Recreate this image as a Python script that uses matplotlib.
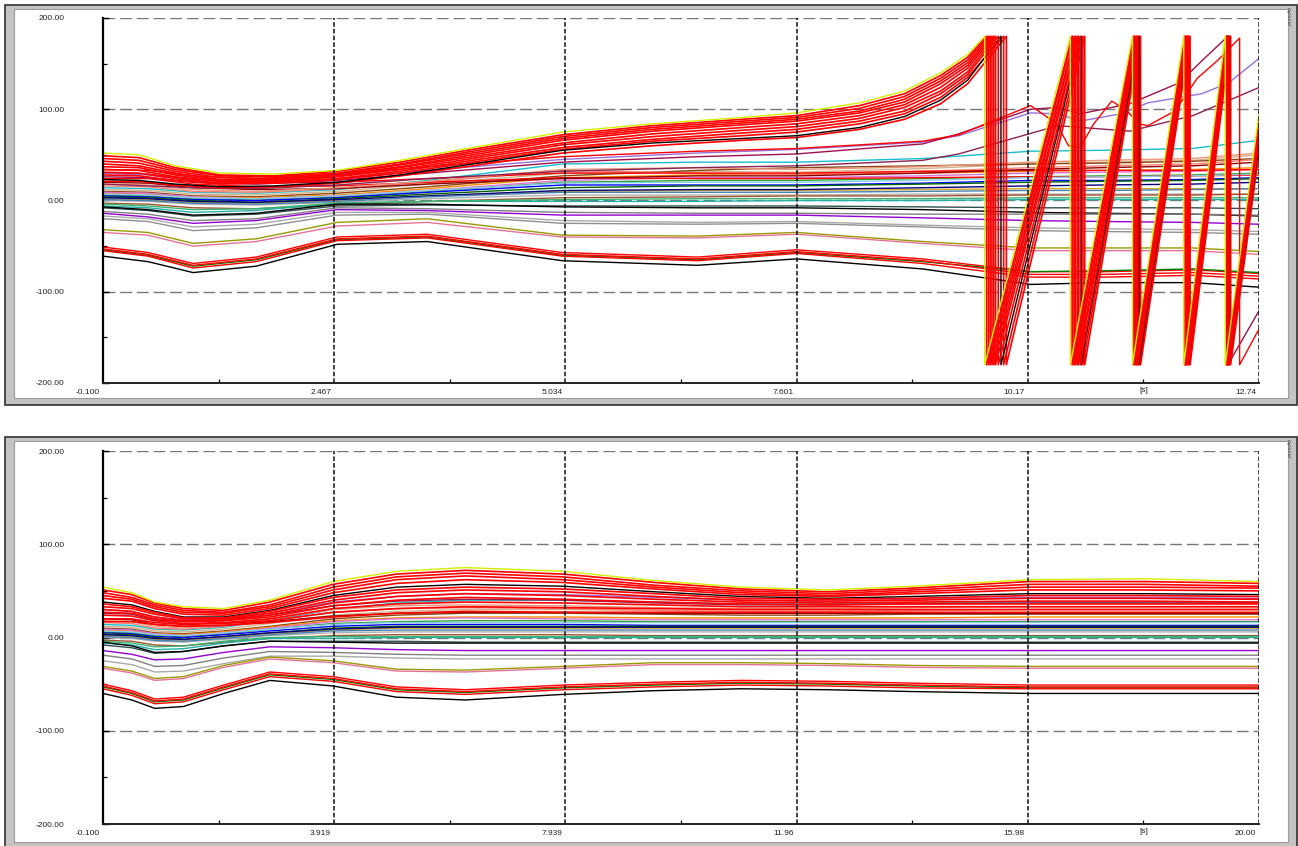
import numpy as np
import matplotlib
matplotlib.use("Agg")
import matplotlib.pyplot as plt
from matplotlib.patches import Rectangle
from matplotlib.transforms import ScaledTranslation

plt.rcParams['font.family'] = ['Liberation Sans', 'DejaVu Sans']

# ---------------- axis ticks ----------------
top_xticks = [-0.1, 2.467, 5.034, 7.601, 10.17, 12.735]
top_xlabels = ["-0.100", "2.467", "5.034", "7.601", "10.17", "12.74"]
bot_xticks = [-0.1, 3.919, 7.939, 11.96, 15.98, 20.0]
bot_xlabels = ["-0.100", "3.919", "7.939", "11.96", "15.98", "20.00"]
yticks = [-200, -100, 0, 100, 200]
ylabels = ["-200.00", "-100.00", "0.00", "100.00", "200.00"]

# ---------------- top panel: non-slipping curves ----------------
t_top = [-0.1, 0.4, 0.9, 1.6, 2.5, 3.5, 5.0, 6.5, 7.6, 9.0, 10.2, 11.0, 12.0, 12.74]
top_colors = ['#17becf', '#d2b48c', '#8b4513', '#ff8c00', '#fa8072', '#2ca02c', '#0000ff',
              '#006400', '#da70d6', '#ff0000', '#ff0000', '#8b0000', '#daa520', '#000080',
              '#b0b0b0', '#4682b4', '#a0522d', '#20b2aa', '#3cb371', '#2f4f4f', '#000000',
              '#808080', '#9400d3', '#a9a9a9', '#909090', '#9a9a00', '#e57399', '#87ceeb',
              '#e9967a',
              '#ff0000', '#008000', '#ff0000', '#ff0000', '#000000']
top_values = [
    [14, 13, 9, 8, 12, 22, 40, 42, 42, 46, 54, 55, 57, 66],
    [12, 11, 7, 6, 10, 18, 30, 32, 31, 35, 40, 42, 44, 50],
    [10, 9, 5, 4, 8, 15, 27, 33, 36, 38, 40, 41, 43, 46],
    [8, 7, 4, 3, 6, 13, 25, 28, 29, 30, 32, 33, 34, 36],
    [16, 15, 10, 9, 13, 20, 33, 30, 28, 32, 36, 38, 40, 45],
    [6, 5, 2, 1, 4, 10, 20, 22, 22, 24, 26, 27, 28, 30],
    [5, 4, 1, 0, 3, 9, 17, 17, 17, 19, 22, 22, 23, 25],
    [4, 3, 0, -2, 2, 7, 14, 16, 16, 18, 20, 21, 22, 24],
    [9, 8, 4, 2, 5, 11, 22, 25, 25, 27, 30, 31, 32, 34],
    [30, 29, 23, 19, 20, 24, 30, 30, 30, 32, 33, 33, 33, 34],
    [24, 24, 18, 15, 16, 20, 25, 24, 24, 25, 26, 26, 27, 28],
    [20, 19, 14, 12, 13, 18, 24, 27, 27, 30, 34, 36, 38, 42],
    [2, 1, -2, -3, 0, 5, 10, 11, 11, 12, 13, 13, 13, 13],
    [3, 2, -1, -2, 1, 5, 11, 12, 12, 14, 16, 17, 18, 20],
    [0, -1, -4, -5, -2, 2, 6, 6, 6, 7, 7, 7, 7, 7],
    [1, 0, -3, -4, -1, 4, 9, 9, 9, 10, 11, 11, 12, 13],
    [-3, -4, -8, -9, -5, -1, 3, 4, 5, 5, 6, 6, 6, 7],
    [-6, -8, -13, -11, -3, -1, -1, -1, 0, 0, 1, 1, 1, 1],
    [-4, -6, -10, -9, -3, -1, 1, 2, 2, 2, 3, 3, 3, 3],
    [-8, -11, -17, -15, -6, -5, -6, -6, -6, -7, -8, -8, -8, -9],
    [-7, -10, -16, -14, -4, -4, -7, -8, -8, -10, -13, -14, -15, -17],
    [-12, -15, -22, -20, -8, -9, -13, -14, -14, -15, -15, -15, -15, -16],
    [-14, -18, -25, -22, -10, -11, -16, -16, -16, -19, -22, -23, -24, -26],
    [-17, -20, -29, -26, -13, -13, -22, -24, -23, -27, -30, -31, -32, -34],
    [-20, -23, -33, -30, -16, -15, -25, -26, -25, -29, -33, -34, -35, -37],
    [-32, -35, -47, -42, -24, -20, -38, -39, -35, -45, -52, -52, -52, -56],
    [-35, -38, -50, -45, -28, -24, -40, -41, -37, -47, -55, -55, -55, -59],
    [7, 6, 3, 2, 5, 11, 19, 20, 20, 22, 25, 26, 27, 29],
    [18, 17, 12, 10, 14, 21, 34, 36, 34, 37, 42, 44, 46, 52],
    [-51, -57, -69, -62, -40, -37, -57, -62, -54, -64, -78, -78, -76, -80],
    [-54, -60, -72, -65, -43, -40, -60, -65, -57, -67, -78, -77, -75, -79],
    [-53, -59, -71, -64, -42, -39, -59, -64, -56, -66, -81, -81, -79, -83],
    [-55, -61, -74, -67, -44, -41, -61, -66, -58, -69, -84, -84, -82, -86],
    [-61, -67, -79, -72, -48, -45, -66, -71, -64, -75, -92, -90, -90, -95],
]

# ---------------- top panel: special late curves ----------------
purple_t = [-0.1, 0.4, 0.9, 1.6, 2.5, 3.5, 5.0, 6.5, 7.6, 9.0, 9.4, 10.2, 10.5, 10.75, 11.2, 11.5, 12.1, 12.4, 12.74]
purple_v = [30, 28, 22, 20, 24, 33, 45, 52, 56, 64, 71, 96, 95, 87, 95, 107, 117, 129, 156]
maroon1_t = [-0.1, 0.4, 0.9, 1.6, 2.5, 3.5, 5.0, 6.5, 7.6, 9.0, 9.4, 10.2, 10.5, 10.75, 11.3, 11.85, 12.1, 12.39, 12.39, 12.74]
maroon1_v = [26, 25, 20, 18, 22, 30, 42, 48, 51, 62, 73, 100, 102, 95, 106, 129, 153, 180, -180, -120]
maroon2_t = [-0.1, 0.9, 1.6, 2.5, 3.5, 5.0, 6.5, 7.6, 9.0, 9.4, 10.5, 11.3, 12.0, 12.74]
maroon2_v = [18, 14, 13, 17, 24, 32, 36, 38, 44, 51, 82, 76, 93, 124]
redosc_t = [-0.1, 0.4, 0.9, 1.6, 2.5, 3.5, 5.0, 6.5, 7.6, 9.0, 9.4, 10.2, 10.49, 10.62, 10.75,
            10.9, 11.1, 11.27, 11.4, 11.5, 11.8, 12.05, 12.27, 12.52, 12.52, 12.74]
redosc_v = [34, 33, 27, 24, 28, 37, 48, 54, 57, 65, 72, 104, 84, 60, 58,
            84, 109, 98, 84, 82, 98, 134, 153, 178, -180, -140]

# ---------------- top panel: slipping bundle ----------------
t_slip = [-0.1, 0.3, 0.7, 1.2, 1.8, 2.5, 3.2, 4.0, 5.0, 6.0, 7.0, 7.6, 8.3, 8.8, 9.2, 9.5]
slip_colors = ['#d4f000', '#ff0000', '#ff0000', '#ff0000', '#ff0000', '#ff0000',
               '#ff0000', '#ff0000', '#000000', '#ff0000', '#ff0000']
slip_values = [
    [52, 50, 38, 30, 29, 33, 44, 58, 75, 84, 91, 96, 107, 120, 140, 160],
    [49, 47, 36, 28, 27, 32, 42, 56, 72, 82, 89, 93, 104, 117, 137, 157],
    [46, 44, 34, 27, 26, 30, 40, 54, 70, 80, 87, 91, 101, 114, 134, 154],
    [43, 41, 32, 25, 24, 29, 39, 52, 68, 78, 85, 89, 98, 111, 131, 151],
    [40, 38, 30, 23, 23, 28, 37, 50, 66, 76, 83, 87, 96, 108, 128, 148],
    [37, 36, 28, 22, 22, 27, 36, 48, 63, 73, 80, 84, 93, 105, 124, 145],
    [34, 33, 26, 21, 21, 26, 34, 46, 61, 70, 77, 81, 90, 102, 120, 141],
    [31, 30, 24, 19, 20, 24, 32, 44, 58, 67, 74, 78, 87, 98, 117, 138],
    [23, 22, 18, 15, 16, 20, 28, 40, 55, 63, 68, 71, 80, 92, 110, 132],
    [28, 27, 22, 18, 19, 23, 30, 42, 56, 65, 71, 75, 84, 95, 113, 135],
    [21, 21, 17, 14, 15, 19, 27, 38, 52, 60, 66, 69, 78, 89, 106, 128],
]
slip_wraps = [
    [9.69, 10.64, 11.33, 11.90, 12.36],
    [9.71, 10.66, 11.34, 11.91, 12.37],
    [9.73, 10.67, 11.35, 11.91, 12.37],
    [9.75, 10.69, 11.36, 11.92, 12.38],
    [9.77, 10.70, 11.37, 11.93, 12.38],
    [9.79, 10.72, 11.38, 11.93, 12.39],
    [9.81, 10.73, 11.38, 11.94, 12.39],
    [9.84, 10.75, 11.39, 11.95, 12.40],
    [9.87, 10.76, 11.40, 11.95, 12.40],
    [9.90, 10.78, 11.41, 11.96, 12.41],
    [9.93, 10.80, 11.42, 11.97, 12.42],
]
slip_end = [95, 90, 86, 82, 78, 74, 70, 66, 62, 58, 54]

# ---------------- bottom panel ----------------
t_bot = [-0.1, 0.4, 0.8, 1.3, 2.0, 2.8, 3.9, 5.0, 6.2, 7.9, 9.5, 11.0, 12.5, 14.0, 16.0, 18.0, 20.0]
bot_mid_colors = ['#17becf', '#9370db', '#8b2252', '#d2b48c', '#8b4513', '#ff8c00', '#fa8072',
                  '#2ca02c', '#0000ff', '#006400', '#da70d6', '#8b0000', '#daa520', '#000080',
                  '#b0b0b0', '#4682b4', '#a0522d', '#20b2aa', '#3cb371', '#2f4f4f', '#000000',
                  '#9400d3', '#808080', '#a9a9a9', '#9a9a00', '#e57399', '#87ceeb', '#e9967a']
bot_mid_values = [
    [14, 13, 9, 8, 11, 18, 30, 37, 40, 40, 38, 36, 36, 37, 38, 38, 38],
    [30, 28, 22, 19, 20, 26, 38, 44, 47, 46, 43, 40, 39, 41, 43, 43, 42],
    [26, 25, 19, 17, 18, 24, 34, 39, 41, 40, 37, 35, 35, 36, 37, 37, 37],
    [12, 11, 7, 6, 9, 15, 24, 28, 30, 30, 29, 28, 28, 29, 30, 30, 30],
    [10, 9, 5, 4, 7, 12, 20, 24, 26, 26, 25, 24, 24, 25, 25, 25, 25],
    [8, 7, 4, 3, 6, 11, 18, 21, 22, 22, 21, 21, 21, 21, 22, 22, 22],
    [16, 15, 10, 9, 12, 18, 27, 31, 32, 31, 29, 28, 28, 29, 30, 30, 30],
    [6, 5, 2, 1, 4, 9, 15, 17, 18, 18, 17, 17, 17, 17, 17, 17, 17],
    [5, 4, 1, 0, 3, 7, 12, 14, 14, 14, 13, 13, 13, 13, 13, 13, 13],
    [4, 3, 0, -2, 1, 5, 10, 12, 12, 12, 12, 12, 12, 12, 12, 12, 12],
    [9, 8, 4, 2, 5, 10, 17, 20, 21, 20, 19, 19, 19, 19, 19, 19, 19],
    [20, 19, 14, 12, 13, 17, 23, 26, 27, 27, 26, 26, 26, 26, 26, 26, 26],
    [2, 1, -2, -3, 0, 4, 8, 10, 10, 10, 10, 10, 10, 10, 10, 10, 10],
    [3, 2, -1, -2, 1, 5, 9, 11, 11, 11, 11, 11, 11, 11, 11, 11, 11],
    [0, -1, -4, -5, -2, 2, 5, 6, 6, 6, 6, 6, 6, 6, 6, 6, 6],
    [1, 0, -3, -4, -1, 3, 7, 8, 8, 8, 8, 8, 8, 8, 8, 8, 8],
    [-3, -4, -8, -9, -5, -1, 2, 3, 3, 3, 2, 2, 2, 2, 2, 2, 2],
    [-6, -8, -13, -12, -6, -1, -1, 0, 0, 0, 0, 0, 0, 0, 0, 0, 0],
    [-4, -6, -10, -9, -4, 0, 1, 1, 1, 1, 1, 1, 1, 1, 1, 1, 1],
    [-8, -11, -17, -15, -9, -4, -4, -4, -5, -5, -5, -5, -5, -5, -5, -5, -5],
    [-5, -9, -16, -15, -9, -4, -5, -6, -6, -6, -6, -6, -6, -6, -6, -6, -6],
    [-14, -18, -24, -23, -16, -10, -11, -13, -14, -14, -14, -14, -14, -14, -14, -14, -14],
    [-19, -23, -31, -30, -22, -15, -16, -18, -19, -19, -19, -19, -19, -19, -19, -19, -19],
    [-25, -29, -37, -36, -28, -20, -20, -22, -23, -23, -23, -23, -23, -23, -23, -23, -23],
    [-31, -36, -44, -42, -30, -21, -25, -34, -35, -31, -27, -27, -28, -30, -31, -31, -31],
    [-33, -38, -46, -44, -32, -23, -27, -36, -37, -33, -29, -29, -30, -32, -33, -33, -33],
    [7, 6, 3, 2, 5, 9, 14, 16, 16, 16, 16, 16, 16, 16, 16, 16, 16],
    [18, 17, 12, 10, 14, 20, 30, 34, 35, 34, 32, 31, 31, 32, 33, 33, 33],
]
bot_low_colors = ['#ff0000', '#008000', '#ff0000', '#ff0000', '#000000']
bot_low_values = [
    [-50, -57, -66, -64, -51, -37, -42, -53, -56, -51, -48, -46, -47, -49, -51, -51, -51],
    [-53, -60, -69, -67, -54, -40, -45, -56, -59, -54, -51, -49, -50, -52, -54, -54, -54],
    [-52, -59, -68, -66, -53, -39, -44, -55, -58, -53, -50, -48, -49, -51, -53, -53, -53],
    [-55, -62, -71, -69, -56, -42, -47, -58, -61, -56, -53, -51, -52, -54, -55, -55, -55],
    [-60, -67, -76, -74, -60, -46, -52, -64, -67, -61, -57, -55, -56, -58, -60, -60, -60],
]
bot_up_colors = ['#ff0000', '#ff0000', '#ff0000', '#ff0000', '#000000', '#ff0000', '#ff0000',
                 '#ff0000', '#ff0000', '#ff0000', '#ff0000', '#ff0000', '#d4f000']
bot_up_values = [
    [51, 46, 37, 31, 29, 38, 57, 68, 72, 68, 59, 52, 49, 53, 60, 60, 58],
    [48, 43, 35, 29, 27, 35, 54, 65, 69, 65, 56, 50, 47, 51, 57, 57, 55],
    [45, 41, 33, 27, 26, 33, 51, 62, 66, 62, 54, 48, 45, 49, 54, 54, 53],
    [42, 39, 31, 25, 24, 31, 48, 58, 62, 59, 52, 46, 44, 47, 51, 51, 50],
    [38, 35, 28, 22, 22, 29, 45, 54, 57, 55, 49, 44, 42, 44, 47, 47, 46],
    [36, 33, 27, 21, 21, 28, 43, 51, 54, 52, 47, 42, 41, 42, 45, 45, 44],
    [33, 31, 25, 20, 20, 26, 40, 48, 51, 49, 44, 40, 39, 40, 42, 42, 41],
    [30, 28, 22, 18, 19, 24, 37, 44, 47, 45, 41, 38, 37, 38, 39, 39, 38],
    [27, 26, 20, 17, 18, 22, 34, 40, 43, 41, 38, 36, 35, 36, 36, 36, 36],
    [24, 23, 18, 15, 16, 20, 31, 36, 38, 37, 35, 33, 33, 33, 33, 33, 33],
    [20, 20, 16, 14, 15, 18, 27, 31, 33, 32, 31, 30, 30, 30, 30, 30, 30],
    [17, 17, 14, 12, 13, 16, 22, 26, 28, 27, 27, 27, 27, 27, 27, 27, 27],
    [54, 48, 38, 33, 31, 40, 60, 71, 75, 71, 61, 54, 51, 55, 62, 63, 60],
]

# ---------------- figure & frames ----------------
W, H = 1298, 846
fig = plt.figure(figsize=(W / 100, H / 100), dpi=100)
fig.patch.set_facecolor('white')


def fbox(x0, y0, x1, y1):
    return [x0 / W, 1 - y1 / H, (x1 - x0) / W, (y1 - y0) / H]


def frame(x0, y0, x1, y1):
    fig.add_artist(Rectangle((x0 / W, 1 - y1 / H), (x1 - x0) / W, (y1 - y0) / H,
                             transform=fig.transFigure, facecolor='#c4c4c4',
                             edgecolor='#303030', lw=1.2, zorder=-10))
    fig.add_artist(Rectangle(((x0 + 9) / W, 1 - (y1 - 7) / H), (x1 - x0 - 18) / W, (y1 - y0 - 11) / H,
                             transform=fig.transFigure, facecolor='white',
                             edgecolor='#9a9a9a', lw=0.8, zorder=-9))
    fig.text((x1 - 9) / W, (1 - (y0 + 12) / H), 'DIgSILENT', rotation=270, fontsize=2.8,
             color='#333333', ha='center', va='center')


frame(5, 5, 1297, 405)
frame(5, 437, 1297, 849)

ax1 = fig.add_axes(fbox(103, 18, 1259, 383))
ax2 = fig.add_axes(fbox(103, 451, 1259, 824))

FS = 6.0


def style(ax, xlim, xticks, xlabels):
    ax.set_facecolor('none')
    ax.set_xlim(*xlim)
    ax.set_ylim(-200, 200)
    for s in ['top', 'right']:
        ax.spines[s].set_visible(False)
    ax.spines['left'].set_linewidth(1.6)
    ax.spines['left'].set_color('black')
    ax.spines['bottom'].set_linewidth(1.4)
    ax.spines['bottom'].set_color('#222222')
    ax.spines['left'].set_zorder(6)
    ax.spines['bottom'].set_zorder(6)
    for yv in [200, 100, 0, -100]:
        ax.axhline(yv, color='#777777', lw=1.0, dashes=(8.5, 3.5), zorder=0.5)
    for xv in xticks[1:]:
        ax.axvline(xv, color='#111111', lw=1.1, dashes=(3.0, 1.4), zorder=5)
    ax.set_yticks(yticks)
    ax.set_yticklabels(ylabels)
    ax.set_yticks([-150, -50, 50, 150], minor=True)
    ax.tick_params(axis='y', which='major', direction='in', length=4, width=1.0,
                   pad=28, labelsize=FS, labelcolor='#222222')
    ax.tick_params(axis='y', which='minor', direction='in', length=3, width=0.9)
    ax.set_xticks(xticks)
    ax.set_xticklabels(xlabels, ha='right')
    mids = [(a + b) / 2 for a, b in zip(xticks[:-1], xticks[1:])]
    ax.set_xticks(mids, minor=True)
    ax.tick_params(axis='x', which='major', direction='in', length=0, pad=4,
                   labelsize=FS, labelcolor='#222222')
    ax.tick_params(axis='x', which='minor', direction='in', length=3, width=0.9)
    off = ScaledTranslation(-3 / 100, 0, fig.dpi_scale_trans)
    for lab in ax.get_xticklabels():
        lab.set_transform(lab.get_transform() + off)
    t = ax.text(mids[-1], -200, '[s]', ha='center', va='top', fontsize=FS, color='#222222')
    t.set_transform(ax.transData + ScaledTranslation(0, -4 / 100, fig.dpi_scale_trans))
    t.set_clip_on(False)


style(ax1, (-0.1, 12.735), top_xticks, top_xlabels)
style(ax2, (-0.1, 20.0), bot_xticks, bot_xlabels)

LW = 1.0

# ---- top panel curves ----
for c, v in zip(top_colors, top_values):
    ax1.plot(t_top, v, color=c, lw=LW, zorder=2)
ax1.plot(maroon2_t, maroon2_v, color='#8b2252', lw=LW, zorder=2)
ax1.plot(purple_t, purple_v, color='#9370db', lw=LW, zorder=2)
ax1.plot(maroon1_t, maroon1_v, color='#a01050', lw=LW, zorder=2)
ax1.plot(redosc_t, redosc_v, color='#ff0000', lw=LW, zorder=2)

for c, v, wr, ve in reversed(list(zip(slip_colors, slip_values, slip_wraps, slip_end))):
    tt = list(t_slip) + [wr[0]]
    vv = list(v) + [180]
    for k in range(1, len(wr)):
        tt += [wr[k - 1], wr[k]]
        vv += [-180, 180]
    tt += [wr[-1], 12.735]
    vv += [-180, ve]
    ax1.plot(tt, vv, color=c, lw=1.2 if c == '#ff0000' else LW, zorder=3)

# ---- bottom panel curves ----
for c, v in zip(bot_mid_colors, bot_mid_values):
    ax2.plot(t_bot, v, color=c, lw=LW, zorder=2)
for c, v in zip(bot_low_colors, bot_low_values):
    ax2.plot(t_bot, v, color=c, lw=LW, zorder=3)
for c, v in zip(bot_up_colors, bot_up_values):
    ax2.plot(t_bot, v, color=c, lw=1.2 if c == '#ff0000' else LW, zorder=3)

fig.savefig('out.png', dpi=100)
